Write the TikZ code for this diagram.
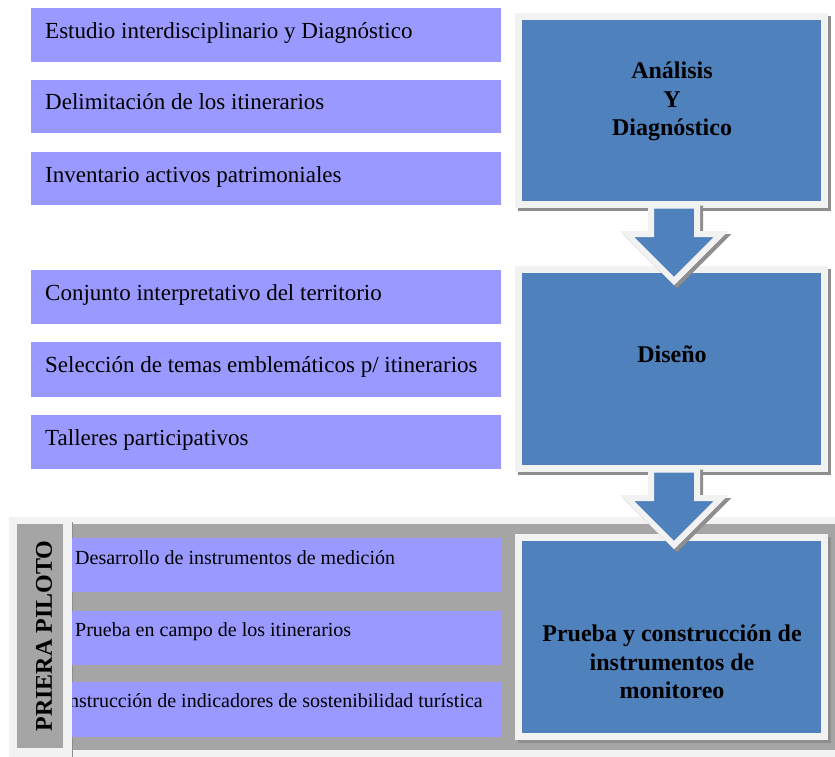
\documentclass[tikz,border=0pt]{standalone}
\usepackage{fontspec}
\setmainfont{Liberation Serif}
\usetikzlibrary{calc}
\definecolor{lav}{HTML}{9999FF}
\definecolor{boxblue}{HTML}{4F81BD}
\definecolor{frame}{HTML}{F2F2F2}
\definecolor{panelgray}{HTML}{A5A5A5}
\definecolor{shadowc}{HTML}{8E8E8E}
\tikzset{
  item/.style={fill=lav, draw=none, minimum width=470pt, minimum height=54pt, anchor=north west, inner sep=0pt, outer sep=0pt},
  pitem/.style={item, minimum width=430pt},
  itemtxt/.style={anchor=base west, inner sep=0pt, font=\fontsize{23}{28}\selectfont},
  pitemtxt/.style={anchor=base west, inner sep=0pt, font=\fontsize{20}{24}\selectfont},
  bigbox/.style={fill=boxblue, draw=frame, line width=7pt, minimum width=306pt, inner sep=0pt, outer sep=0pt,
    preaction={draw=shadowc, fill=shadowc, line width=7pt, transform canvas={xshift=3pt,yshift=-3pt}}},
  bigtxt/.style={font=\bfseries\fontsize{24}{28.5}\selectfont, align=center, inner sep=0pt},
  flowarrow/.style={fill=boxblue, draw=frame, line width=6pt, line join=miter,
    preaction={draw=shadowc, fill=shadowc, line width=6pt, line join=miter, transform canvas={xshift=3pt,yshift=-3pt}}},
  blockarrow/.pic={\path[flowarrow] (-20.5,1) -- (25.5,1) -- (25.5,29.5) -- (49.5,29.5) -- (2.5,76.5) -- (-44.5,29.5) -- (-20.5,29.5) -- cycle;}
}
\begin{document}
\begin{tikzpicture}[x=1pt,y=-1pt]
\useasboundingbox (0,0) rectangle (835,757);
% bottom panel
\fill[frame] (9,517) rectangle (835,757);
\fill[panelgray] (72,524) rectangle (835,750);
\node[fill=panelgray, minimum width=46pt, minimum height=224pt, inner sep=0pt, anchor=north west] (lbl) at (17,524) {};
\draw[shadowc, line width=1pt] (72,522) -- (72,757);
% left items
\node[item] (i1) at (31,8) {};
\node[item, minimum height=53pt] (i2) at (31,80) {};
\node[item, minimum height=53pt] (i3) at (31,152) {};
\node[item] (i4) at (31,270) {};
\node[item, minimum height=55pt] (i5) at (31,342) {};
\node[item] (i6) at (31,415) {};
\node[pitem] (p1) at (72,538) {};
\node[pitem] (p2) at (72,611) {};
\node[pitem, minimum height=55pt] (p3) at (72,682) {};
\node[itemtxt] (t1) at ([xshift=14pt,yshift=-31pt]i1.north west) {Estudio interdisciplinario y Diagnóstico};
\node[itemtxt] (t2) at ([xshift=14pt,yshift=-30pt]i2.north west) {Delimitación de los itinerarios};
\node[itemtxt] (t3) at ([xshift=14pt,yshift=-30pt]i3.north west) {Inventario activos patrimoniales};
\node[itemtxt] (t4) at ([xshift=14pt,yshift=-30pt]i4.north west) {Conjunto interpretativo del territorio};
\node[itemtxt] (t5) at ([xshift=14pt,yshift=-30pt]i5.north west) {Selección de temas emblemáticos p/ itinerarios};
\node[itemtxt] (t6) at ([xshift=14pt,yshift=-30pt]i6.north west) {Talleres participativos};
\node[pitemtxt] (q1) at ([xshift=3pt,yshift=-26pt]p1.north west) {Desarrollo de instrumentos de medición};
\node[pitemtxt] (q2) at ([xshift=3pt,yshift=-25pt]p2.north west) {Prueba en campo de los itinerarios};
\begin{scope}
\clip (72,682) rectangle (502,737);
\node[pitemtxt, anchor=base east] (q3) at (483,707) {Construcción de indicadores de sostenibilidad turística};
\end{scope}
\node[font=\bfseries\fontsize{24}{28}\selectfont, rotate=90, inner sep=0pt] (lbltxt) at (44,636) {PRIERA PILOTO};
% big boxes
\node[bigbox, minimum height=188pt] (A) at (671.5,110.5) {};
\node[bigbox, minimum height=199pt] (D) at (671.5,369) {};
\node[bigbox, minimum height=199pt] (P) at (671.5,637) {};
\node[bigtxt] (At) at (672,101.5) {Análisis\\Y\\Diagnóstico};
\node[bigtxt, anchor=base] (Dt) at (672,362) {Diseño};
\node[bigtxt] (Pt) at (672,662) {Prueba y construcción de\\instrumentos de\\monitoreo};
% arrows
\pic at (A.south) {blockarrow};
\pic at (D.south) {blockarrow};
\end{tikzpicture}
\end{document}
